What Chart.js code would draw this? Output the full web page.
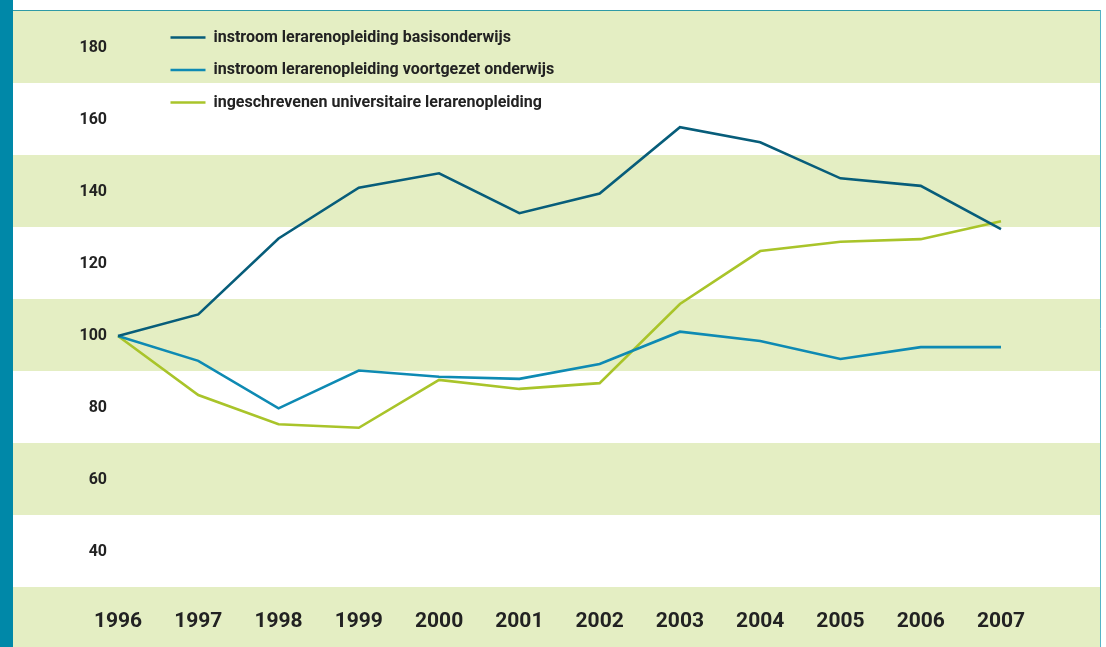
<!DOCTYPE html>
<html>
<head>
<meta charset="utf-8">
<script src="https://cdn.jsdelivr.net/npm/chart.js@4/dist/chart.umd.min.js"></script>
<style>
  html, body { margin: 0; padding: 0; background: #ffffff; }
  #wrap { width: 1106px; height: 647px; position: relative; }
</style>
</head>
<body>
<div id="wrap"><canvas id="c" width="1106" height="647"></canvas></div>
<script>
const years = ['1996','1997','1998','1999','2000','2001','2002','2003','2004','2005','2006','2007'];
const basisonderwijs = [100, 106.0, 127.1, 141.2, 145.2, 134.1, 139.6, 158.0, 153.8, 143.8, 141.7, 129.7];
const voortgezetOnderwijs = [100, 93.1, 79.9, 90.4, 88.7, 88.1, 92.2, 101.2, 98.6, 93.6, 96.9, 96.9];
const universitair = [100, 83.6, 75.5, 74.5, 87.8, 85.3, 86.9, 108.9, 123.6, 126.2, 126.9, 131.9];
const seriesNames = [
  'instroom lerarenopleiding basisonderwijs',
  'instroom lerarenopleiding voortgezet onderwijs',
  'ingeschrevenen universitaire lerarenopleiding'
];
const yTickValues = [40, 60, 80, 100, 120, 140, 160, 180];

const BAND = '#e4eec3';
const TEAL = '#0088a8';

const backgroundPlugin = {
  id: 'bands',
  beforeDraw(chart) {
    const { ctx, width, height, scales } = chart;
    const y = scales.y;
    const top = chart.chartArea.top - 1;
    ctx.save();
    ctx.fillStyle = '#ffffff';
    ctx.fillRect(0, 0, width, height);
    const step = 20;
    ctx.fillStyle = BAND;
    for (let v = 180; v >= 0; v -= 2 * step) {
      let y1 = Math.round(y.getPixelForValue(v + step / 2)) - 1;
      let y2 = Math.round(y.getPixelForValue(v - step / 2)) - 1;
      y1 = Math.max(y1, top);
      y2 = Math.min(y2, height);
      if (y2 > y1) ctx.fillRect(13, y1, 1100 - 13, y2 - y1);
    }
    ctx.fillStyle = TEAL;
    ctx.fillRect(0, 0, 13, height);
    ctx.strokeStyle = '#2f9aa6';
    ctx.lineWidth = 1.2;
    ctx.beginPath();
    ctx.moveTo(13, top - 0.5);
    ctx.lineTo(1101, top - 0.5);
    ctx.stroke();
    ctx.strokeStyle = '#55b3c6';
    ctx.lineWidth = 1;
    ctx.beginPath();
    ctx.moveTo(1100.5, top - 1);
    ctx.lineTo(1100.5, height);
    ctx.stroke();
    ctx.restore();
  }
};

const legendShift = {
  id: 'legendShift',
  afterLayout(chart) {
    const lg = chart.legend;
    if (!lg) return;
    const targetLeft = chart.chartArea.left + 36;
    const targetTop = chart.chartArea.top + 1;
    const dx = targetLeft - lg.left;
    const dy = targetTop - lg.top;
    lg.left += dx; lg.right += dx;
    lg.top += dy; lg.bottom += dy;
  }
};

const fontFamily = 'Roboto, "Open Sans", sans-serif';

new Chart(document.getElementById('c'), {
  type: 'line',
  data: {
    labels: years,
    datasets: [
      { label: seriesNames[0], data: basisonderwijs, borderColor: '#075d7a', backgroundColor: '#075d7a', borderWidth: 2.6 },
      { label: seriesNames[1], data: voortgezetOnderwijs, borderColor: '#0e8ab3', backgroundColor: '#0e8ab3', borderWidth: 2.6 },
      { label: seriesNames[2], data: universitair, borderColor: '#a9c42a', backgroundColor: '#a9c42a', borderWidth: 2.6 }
    ]
  },
  options: {
    responsive: false,
    animation: false,
    devicePixelRatio: 1,
    layout: { padding: { top: 12, right: 105, bottom: 0, left: 0 } },
    elements: {
      line: { tension: 0, borderJoinStyle: 'miter' },
      point: { radius: 0, hoverRadius: 0 }
    },
    plugins: {
      tooltip: { enabled: false },
      legend: {
        position: 'chartArea',
        align: 'start',
        labels: {
          usePointStyle: true,
          pointStyle: 'line',
          pointStyleWidth: 35,
          padding: 16.5,
          color: '#222222',
          font: { family: fontFamily, size: 16, weight: 'bold' }
        }
      }
    },
    scales: {
      x: {
        type: 'category',
        offset: false,
        grid: { display: false, drawTicks: false },
        border: { display: false },
        ticks: {
          color: '#222222',
          padding: 21,
          maxRotation: 0,
          autoSkip: false,
          font: { family: fontFamily, size: 21, weight: 'bold' }
        },
        afterFit(scale) { scale.height = 59; }
      },
      y: {
        min: 30,
        max: 190,
        grid: { display: false, drawTicks: false },
        border: { display: false },
        ticks: {
          color: '#222222',
          padding: 11,
          font: { family: fontFamily, size: 16, weight: 'bold' }
        },
        afterBuildTicks(scale) {
          scale.ticks = yTickValues.map(v => ({ value: v }));
        },
        afterFit(scale) {
          scale.width = 118;
          scale.paddingTop = 0;
          scale.paddingBottom = 0;
        }
      }
    }
  },
  plugins: [backgroundPlugin, legendShift]
});
</script>
</body>
</html>
